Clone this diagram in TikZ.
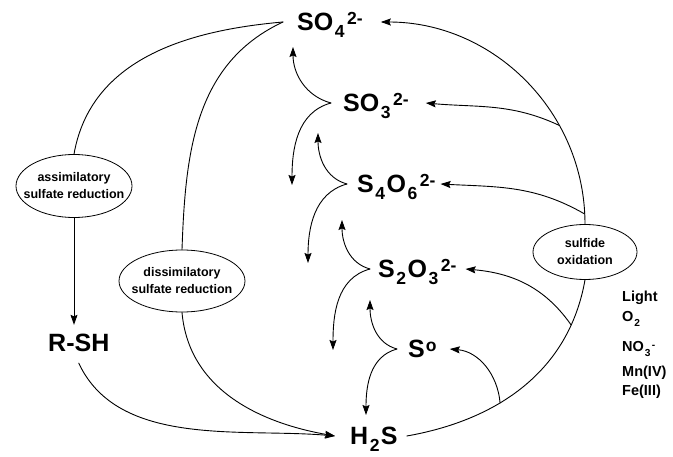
\documentclass[tikz,border=0pt]{standalone}
\usepackage{fontspec}
\setmainfont{Liberation Sans}
\usetikzlibrary{arrows.meta,shapes.geometric}

% indices of the ions
\newcommand\lowidx[1]{\kern0.06em\raisebox{-0.28em}{\scalebox{0.7}{#1}}\kern0.06em}
\newcommand\highidx[1]{\kern0.04em\raisebox{0.24em}{\scalebox{0.7}{#1}}}

\tikzset{
  species/.style={font=\fontsize{25}{30}\selectfont\bfseries,inner sep=0pt,
    text height=17.9pt,text depth=0pt,anchor=west},
  process/.style={ellipse,draw,line width=0.8pt,inner xsep=-12pt,inner ysep=0pt,
    align=center,font=\fontsize{12.5}{17}\selectfont\bfseries},
  agent/.style={font=\fontsize{14.5}{17}\selectfont\bfseries,inner sep=0pt,anchor=base west},
  flow/.style={line width=0.9pt},
  react/.style={-{Stealth[length=10pt,width=7pt,inset=1.5pt]}}
}

\begin{document}
\begin{tikzpicture}[x=1pt,y=1pt,line cap=round,line join=round]
  \useasboundingbox (0,0) rectangle (673,-457);

  % Sulfur compounds
  \node[species] (so4)  at (297,-22)  {SO\lowidx{4}\highidx{2-}};
  \node[species] (so3)  at (343,-103) {SO\lowidx{3}\highidx{2-}};
  \node[species] (s4o6) at (357,-184) {S\lowidx{4}O\lowidx{6}\highidx{2-}};
  \node[species] (s2o3) at (378,-269) {S\lowidx{2}O\lowidx{3}\highidx{2-}};
  \node[species] (s0)   at (408,-349) {S\highidx{o}};
  \node[species] (h2s)  at (350,-436) {H\lowidx{2}S};
  \node[species] (rsh)  at (48,-343)  {R-SH};

  % Processes
  \node[process,minimum width=116pt,minimum height=63pt] (assim) at (74,-186)
    {assimilatory\\sulfate reduction};
  \node[process,minimum width=126pt,minimum height=62pt] (dissim) at (182,-281)
    {dissimilatory\\sulfate reduction};
  \node[process,minimum width=104pt,minimum height=55pt] (sox) at (585,-252)
    {sulfide\\oxidation};

  % Electron acceptors
  \node[agent] (light)   at (622,-302) {Light};
  \node[agent] (otwo)    at (622,-322) {O\lowidx{2}};
  \node[agent] (nitrate) at (622,-352) {NO\lowidx{3}\highidx{-}};
  \node[agent] (mn)      at (622,-377) {Mn(IV)};
  \node[agent] (fe)      at (622,-396) {Fe(III)};

  % Reduction side
  \coordinate (so4w) at ([xshift=-14pt]so4.west);
  \draw[flow] (so4w) to[out=185,in=80] (assim.north);
  \draw[flow] (so4w) to[out=205,in=88] (dissim.north);
  \draw[flow,react,shorten >=9pt] (assim.south) -- (assim.south |- rsh.north);
  \draw[flow,react] ([yshift=-11pt]rsh.south) to[out=-65,in=175,looseness=0.9]
    ([xshift=-15pt]h2s.west);
  \draw[flow,react] (dissim.south) to[out=-85,in=170] ([xshift=-15pt]h2s.west);

  % Branch points and arrow ends of the intermediates
  \coordinate (b3)  at ([xshift=-12pt]so3.west);
  \coordinate (b46) at ([xshift=-10pt]s4o6.west);
  \coordinate (b23) at ([xshift=-8pt]s2o3.west);
  \coordinate (b0)  at ([xshift=-11pt]s0.west);
  \coordinate (u3)  at (293,-47);
  \coordinate (d3)  at (292,-185);
  \coordinate (u46) at (318,-133);
  \coordinate (d46) at (308,-263);
  \coordinate (u23) at (342,-220);
  \coordinate (d23) at (333,-350);
  \coordinate (u0)  at (370,-300);
  \coordinate (d0)  at (366,-415);

  \draw[flow,react] (b3) to[out=165,in=-90] (u3);
  \draw[flow,react] (b3) to[out=195,in=90] (d3);
  \draw[flow,react] (b46) to[out=165,in=-90] (u46);
  \draw[flow,react] (b46) to[out=195,in=90] (d46);
  \draw[flow,react] (b23) to[out=165,in=-90] (u23);
  \draw[flow,react] (b23) to[out=195,in=90] (d23);
  \draw[flow,react] (b0) to[out=165,in=-90] (u0);
  \draw[flow,react] (b0) to[out=195,in=90] (d0);

  % Oxidation side
  \draw[flow] ([xshift=9pt]h2s.east) to[out=10,in=-100]
    coordinate[pos=0.38] (js0) coordinate[pos=0.82] (j23) (sox.south);
  \draw[flow,react] (sox.north) to[out=90,in=0]
    coordinate[pos=0.03] (j46) coordinate[pos=0.32] (j3) ([xshift=18pt]so4.east);
  \draw[flow,react] (j3) to[out=155,in=-5] ([xshift=17pt]so3.east);
  \draw[flow,react] (j46) to[out=150,in=-3] ([xshift=5pt]s4o6.east);
  \draw[flow,react] (j23) to[out=125,in=-5] ([xshift=9pt]s2o3.east);
  \draw[flow,react] (js0) to[out=95,in=-5] ([xshift=13pt]s0.east);
\end{tikzpicture}
\end{document}
